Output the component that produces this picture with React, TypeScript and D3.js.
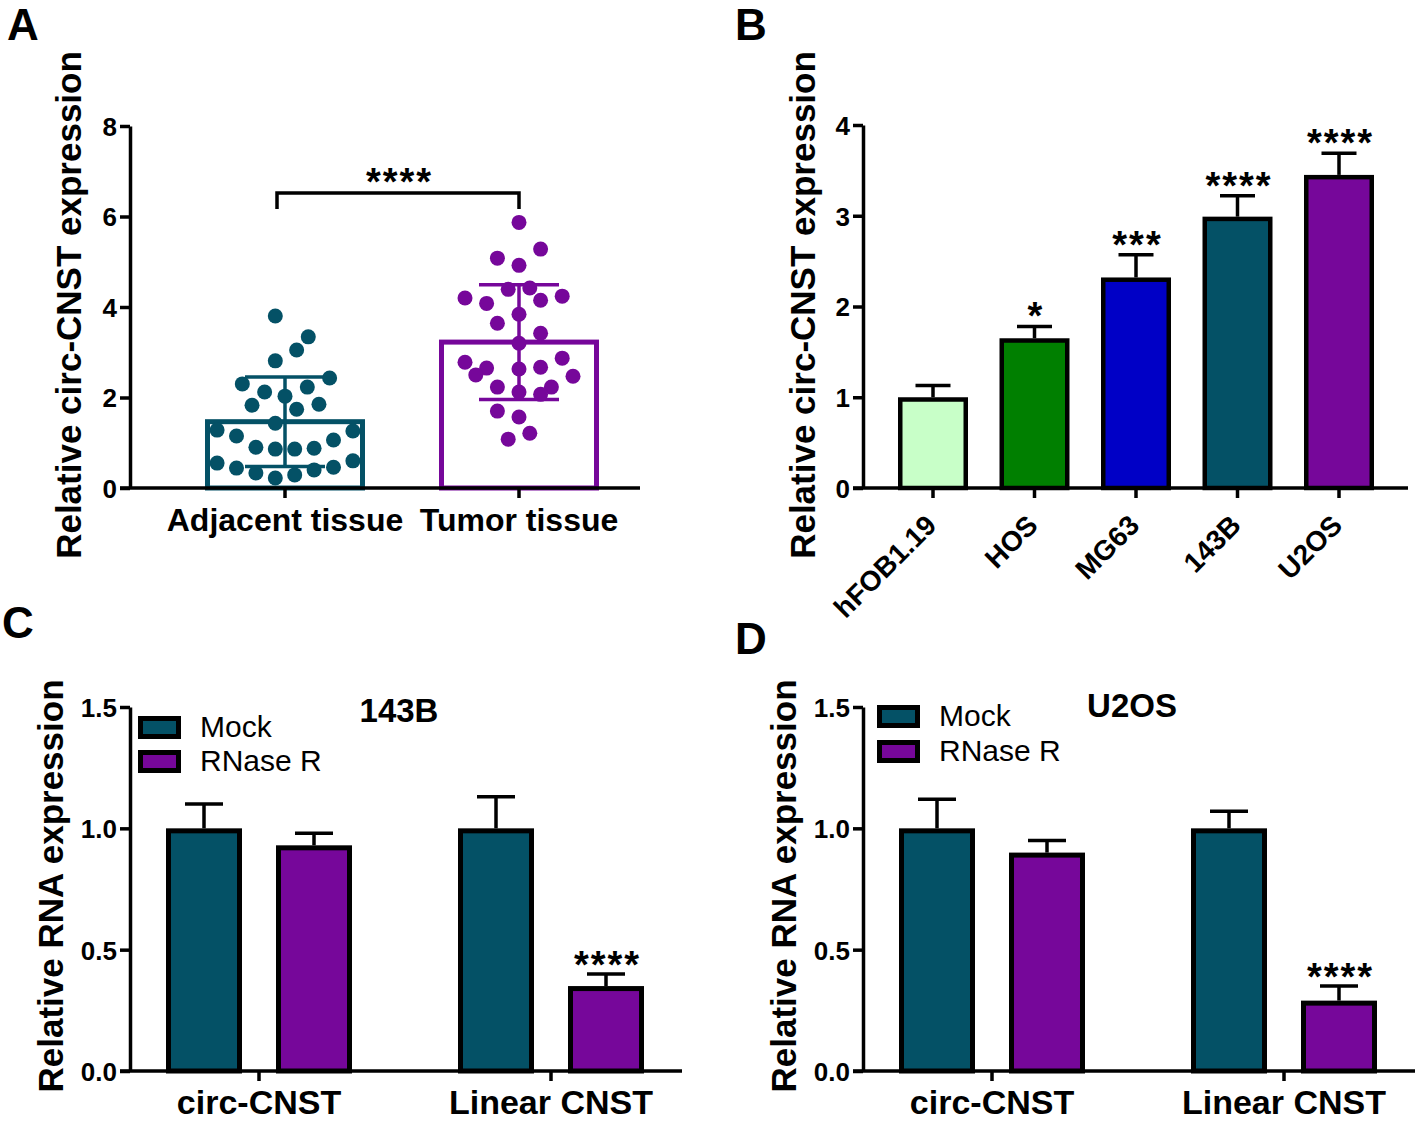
import React, { useEffect, useRef } from 'react';
import * as d3 from 'd3';

const FONT = '"Liberation Sans", Arial, Helvetica, sans-serif';
const TEAL = '#045166';
const PURPLE = '#76079a';

// ---- panel A: individual samples (scatter + mean ± SD)
const tissueGroups = ['Adjacent tissue', 'Tumor tissue'];
const adjacentValues = [
    3.8, 3.34, 3.05, 2.81, 2.43, 2.3, 2.12, 2.23, 2.03, 1.83, 1.85, 1.74, 1.43, 1.28, 1.15,
    1.26, 0.9, 0.86, 0.86, 0.88, 1.06, 0.55, 0.44, 0.33, 0.22, 0.29, 0.4, 0.46, 0.6
];
// beeswarm lane of each sample
const adjacentLanes = [
    -1, 2.4, 1.2, -1, 4.6, -4.4, -2.1, 2.3, 0, -3.4, 3.5, 1.2, -1, -7, -5,
    7, -3, -1, 1, 3, 5, -7, -5, -3, -1, 1, 3, 5, 7
];
const tumorValues = [
    5.87, 5.28, 5.08, 4.92, 4.39, 4.42, 4.2, 4.08, 4.15, 4.24, 3.84, 3.64, 3.42, 3.2, 2.78,
    2.65, 2.5, 2.87, 2.67, 2.63, 2.47, 2.23, 2.23, 2.12, 2.07, 1.7, 1.57, 1.21, 1.08
];
const tumorLanes = [
    0, 2, -2, 0, -1, 1, -5, -3, 2, 4, 0, -2, 2, 0, -5,
    -3, -4, 4, 2, 0, 5, -2, 3, 0, 2, -2, 0, 1, -1
];
const tissueStars = '****';

// ---- panel B: cell lines
const cellLines = ['hFOB1.19', 'HOS', 'MG63', '143B', 'U2OS'];
const cellLineMeans = [1.0, 1.65, 2.32, 2.99, 3.45];
const cellLineErrors = [0.13, 0.13, 0.25, 0.23, 0.24];
const cellLineStars = ['', '*', '***', '****', '****'];
const cellLineColors = ['#c8ffc8', '#007f00', '#0000c6', TEAL, PURPLE];

// ---- panels C and D: RNase R resistance
const rnaTargets = ['circ-CNST', 'Linear CNST'];
const treatments = ['Mock', 'RNase R'];
const treatmentColors = [TEAL, PURPLE];
const mock143B = [1.0, 1.0];
const mockErr143B = [0.1, 0.13];
const rnase143B = [0.93, 0.35];
const rnaseErr143B = [0.05, 0.05];
const stars143B = ['', '****'];
const mockU2OS = [1.0, 1.0];
const mockErrU2OS = [0.12, 0.07];
const rnaseU2OS = [0.9, 0.29];
const rnaseErrU2OS = [0.05, 0.06];
const starsU2OS = ['', '****'];
const rnaTicks = [0, 0.5, 1.0, 1.5];

const AXIS_W = 3.5;

function yAxis(g, scale, x, ticks, fmt) {
    const ax = d3
        .axisLeft(scale)
        .tickValues(ticks)
        .tickFormat(fmt)
        .tickSize(10)
        .tickSizeOuter(0)
        .tickPadding(3);
    const ag = g.append('g').attr('transform', `translate(${x},0)`).call(ax);
    ag.select('.domain').attr('stroke', '#000').attr('stroke-width', AXIS_W);
    ag.selectAll('.tick line').attr('stroke', '#000').attr('stroke-width', AXIS_W);
    ag.selectAll('.tick text')
        .attr('font-family', FONT)
        .attr('font-size', 26)
        .attr('font-weight', 'bold')
        .attr('fill', '#000')
        .attr('dy', '0.36em');
}

function xBase(g, y0, x0, x1, tickXs) {
    g.append('line')
        .attr('x1', x0 - 10)
        .attr('x2', x1)
        .attr('y1', y0)
        .attr('y2', y0)
        .attr('stroke', '#000')
        .attr('stroke-width', AXIS_W);
    g.selectAll(null)
        .data(tickXs)
        .join('line')
        .attr('x1', (d) => d)
        .attr('x2', (d) => d)
        .attr('y1', y0)
        .attr('y2', y0 + 10)
        .attr('stroke', '#000')
        .attr('stroke-width', AXIS_W);
}

function label(g, text, x, y, size, weight = 'bold', anchor = 'middle') {
    return g
        .append('text')
        .attr('x', x)
        .attr('y', y)
        .attr('font-family', FONT)
        .attr('font-size', size)
        .attr('font-weight', weight)
        .attr('text-anchor', anchor)
        .attr('fill', '#000')
        .text(text);
}

function yTitle(g, text, x, y) {
    g.append('text')
        .attr('transform', `translate(${x},${y}) rotate(-90)`)
        .attr('font-family', FONT)
        .attr('font-size', 35)
        .attr('font-weight', 'bold')
        .attr('text-anchor', 'middle')
        .text(text);
}

// asterisks sit high above their baseline, so the baseline is put near the cap line
function stars(g, text, x, capY, dy) {
    g.append('text')
        .attr('x', x + 1.5)
        .attr('y', capY + dy)
        .attr('font-family', FONT)
        .attr('font-size', 38)
        .attr('font-weight', 'bold')
        .attr('letter-spacing', 2)
        .attr('text-anchor', 'middle')
        .text(text);
}

function errorBar(g, x, yTop, yBase, capW, color = '#000') {
    g.append('line')
        .attr('x1', x)
        .attr('x2', x)
        .attr('y1', yBase)
        .attr('y2', yTop)
        .attr('stroke', color)
        .attr('stroke-width', 3.5);
    g.append('line')
        .attr('x1', x - capW / 2)
        .attr('x2', x + capW / 2)
        .attr('y1', yTop)
        .attr('y2', yTop)
        .attr('stroke', color)
        .attr('stroke-width', 3.5);
}

function drawPanelA(g) {
    const y = d3.scaleLinear().domain([0, 8]).range([488, 126]);
    const x = d3.scalePoint().domain(tissueGroups).range([285, 519]);
    const groups = [
        { values: adjacentValues, lanes: adjacentLanes, color: TEAL, step: 9.7 },
        { values: tumorValues, lanes: tumorLanes, color: PURPLE, step: 10.8 }
    ];
    const barW = 155;

    groups.forEach((grp, i) => {
        const cx = x(tissueGroups[i]);
        const mean = d3.mean(grp.values);
        const sd = d3.deviation(grp.values);
        g.append('rect')
            .attr('x', cx - barW / 2)
            .attr('y', y(mean))
            .attr('width', barW)
            .attr('height', y(0) - y(mean))
            .attr('fill', 'none')
            .attr('stroke', grp.color)
            .attr('stroke-width', 5);
        errorBar(g, cx, y(mean + sd), y(mean - sd), 80, grp.color);
        g.append('line')
            .attr('x1', cx - 40)
            .attr('x2', cx + 40)
            .attr('y1', y(mean - sd))
            .attr('y2', y(mean - sd))
            .attr('stroke', grp.color)
            .attr('stroke-width', 3.5);
        g.selectAll(null)
            .data(grp.values)
            .join('circle')
            .attr('cx', (d, k) => cx + grp.lanes[k] * grp.step)
            .attr('cy', (d) => y(d))
            .attr('r', 7.5)
            .attr('fill', grp.color);
    });

    yAxis(g, y, 130, [0, 2, 4, 6, 8], d3.format('d'));
    xBase(g, 488, 130, 640, tissueGroups.map((t) => x(t)));
    tissueGroups.forEach((t) => label(g, t, x(t), 531, 32));

    const x0 = x(tissueGroups[0]) - 8;
    const x1 = x(tissueGroups[1]);
    g.append('path')
        .attr('d', `M${x0},209V193H${x1}V209`)
        .attr('fill', 'none')
        .attr('stroke', '#000')
        .attr('stroke-width', 3.5);
    stars(g, tissueStars, (x0 + x1) / 2, 193, 2);

    yTitle(g, 'Relative circ-CNST expression', 81, 305);
    label(g, 'A', 7, 40, 44, 'bold', 'start');
}

function drawPanelB(g) {
    const y = d3.scaleLinear().domain([0, 4]).range([488, 125]);
    const x = d3.scalePoint().domain(cellLines).range([933, 1339]);
    const barW = 70;
    const sw = 4.5;

    cellLines.forEach((c, i) => {
        const cx = x(c);
        const v = cellLineMeans[i];
        const top = y(v + cellLineErrors[i]);
        errorBar(g, cx, top, y(v), barW / 2);
        g.append('rect')
            .attr('x', cx - barW / 2 + sw / 2)
            .attr('y', y(v) + sw / 2)
            .attr('width', barW - sw)
            .attr('height', y(0) - y(v) - sw / 2)
            .attr('fill', cellLineColors[i])
            .attr('stroke', '#000')
            .attr('stroke-width', sw);
        if (cellLineStars[i]) stars(g, cellLineStars[i], cx, top, 3);
    });

    yAxis(g, y, 863, [0, 1, 2, 3, 4], d3.format('d'));
    xBase(g, 488, 863, 1408, cellLines.map((c) => x(c)));
    cellLines.forEach((c) => {
        g.append('text')
            .attr('transform', `translate(${x(c) + 5},527) rotate(-45)`)
            .attr('font-family', FONT)
            .attr('font-size', 28)
            .attr('font-weight', 'bold')
            .attr('text-anchor', 'end')
            .text(c);
    });

    yTitle(g, 'Relative circ-CNST expression', 815, 305);
    label(g, 'B', 735, 40, 44, 'bold', 'start');
}

function drawRnasePanel(g, o) {
    const y = d3.scaleLinear().domain([0, 1.5]).range([1071, 707]);
    const x = d3.scalePoint().domain(rnaTargets).range([o.axisX + 129, o.axisX + 421]);
    const barW = 76;
    const sw = 5;
    const series = [
        { vals: o.mock, errs: o.mockErr, dx: -55 },
        { vals: o.rnase, errs: o.rnaseErr, dx: 55 }
    ];

    series.forEach((s, si) => {
        rnaTargets.forEach((t, i) => {
            const cx = x(t) + s.dx;
            const v = s.vals[i];
            const top = y(v + s.errs[i]);
            errorBar(g, cx, top, y(v), barW / 2);
            g.append('rect')
                .attr('x', cx - barW / 2 + sw / 2)
                .attr('y', y(v) + sw / 2)
                .attr('width', barW - sw)
                .attr('height', y(0) - y(v) - sw / 2)
                .attr('fill', treatmentColors[si])
                .attr('stroke', '#000')
                .attr('stroke-width', sw);
            if (si === 1 && o.stars[i]) stars(g, o.stars[i], cx, top, 4);
        });
    });

    yAxis(g, y, o.axisX, rnaTicks, d3.format('.1f'));
    xBase(g, 1071, o.axisX, o.axisX + 552, rnaTargets.map((t) => x(t)));
    rnaTargets.forEach((t) => label(g, t, x(t), 1114, 34));

    // legend
    treatments.forEach((t, i) => {
        const ly = o.legendY + i * o.legendGap;
        g.append('rect')
            .attr('x', o.legendX + 2.5)
            .attr('y', ly + 2.5)
            .attr('width', 38)
            .attr('height', 18)
            .attr('fill', treatmentColors[i])
            .attr('stroke', '#000')
            .attr('stroke-width', 5);
        label(g, t, o.legendX + 62, ly + 21, 30, 'normal', 'start');
    });

    label(g, o.title, o.titleX, o.titleY, 33);
    yTitle(g, 'Relative RNA expression', o.axisX - 67, 886);
    label(g, o.letter, o.letterX, o.letterY, 44, 'bold', 'start');
}

export default function App() {
    const ref = useRef(null);

    useEffect(() => {
        const svg = d3.select(ref.current);
        svg.selectAll('*').remove();
        drawPanelA(svg.append('g'));
        drawPanelB(svg.append('g'));
        drawRnasePanel(svg.append('g'), {
            axisX: 130,
            mock: mock143B,
            mockErr: mockErr143B,
            rnase: rnase143B,
            rnaseErr: rnaseErr143B,
            stars: stars143B,
            legendX: 138,
            legendY: 716,
            legendGap: 34,
            title: '143B',
            titleX: 399,
            titleY: 722,
            letter: 'C',
            letterX: 2,
            letterY: 638
        });
        drawRnasePanel(svg.append('g'), {
            axisX: 863,
            mock: mockU2OS,
            mockErr: mockErrU2OS,
            rnase: rnaseU2OS,
            rnaseErr: rnaseErrU2OS,
            stars: starsU2OS,
            legendX: 877,
            legendY: 705,
            legendGap: 35,
            title: 'U2OS',
            titleX: 1132,
            titleY: 717,
            letter: 'D',
            letterX: 735,
            letterY: 654
        });
    }, []);

    return (
        <svg
            ref={ref}
            width={1418}
            height={1121}
            style={{ position: 'absolute', left: 0, top: 0, background: '#fff' }}
        />
    );
}
